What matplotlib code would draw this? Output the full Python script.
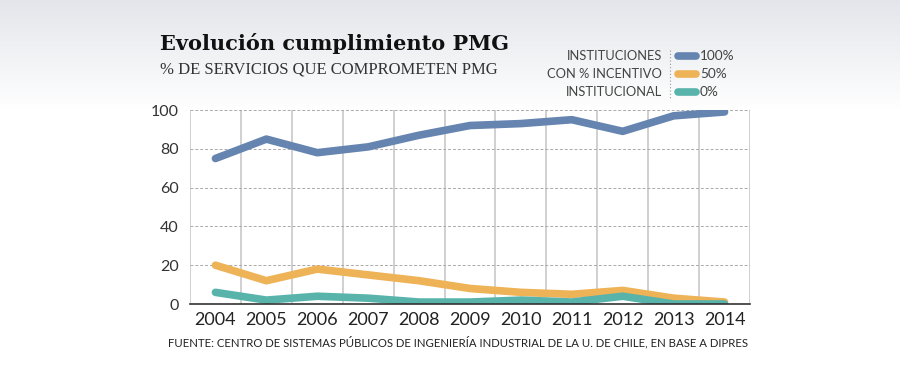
import matplotlib
matplotlib.use("Agg")
import matplotlib.pyplot as plt
import numpy as np

# Datos
years = [2004, 2005, 2006, 2007, 2008, 2009, 2010, 2011, 2012, 2013, 2014]
pct_100 = [75, 85, 78, 81, 87, 92, 93, 95, 89, 97, 99]
pct_50 = [20, 12, 18, 15, 12, 8, 6, 5, 7, 3, 1]
pct_0 = [6, 2, 4, 3, 1, 1, 2, 1, 4, 0, 0]

series_labels = ["100%", "50%", "0%"]
colors = ["#6585b0", "#eeb257", "#58b3ab"]

W, H = 900, 384
fig = plt.figure(figsize=(W / 100, H / 100), dpi=100)

# fondo degradado gris -> blanco
bg = fig.add_axes([0, 0, 1, 1], zorder=-10)
grad = np.ones((H, 1, 3))
top = np.array([0.89, 0.90, 0.92])
for i in range(H):
    t = min(i / 110.0, 1.0)
    grad[i, 0, :] = top * (1 - t) + np.array([1, 1, 1]) * t
bg.imshow(grad, aspect="auto", extent=[0, 1, 0, 1])
bg.axis("off")

# ejes: izquierda 190px, derecha 750px, y=100 en 110px, y=0 en 304px
ax = fig.add_axes([190 / W, 1 - 304 / H, 560 / W, 194 / H])
ax.set_facecolor("none")

for vals, c in zip([pct_100, pct_50, pct_0], colors):
    ax.plot(years, vals, color=c, lw=5.5, solid_capstyle="round", solid_joinstyle="round", zorder=3)

ax.set_xlim(2003.5, 2014.5)
ax.set_ylim(0, 100)
ax.set_yticks([0, 20, 40, 60, 80, 100])
ax.set_xticks(years)
ax.set_xticks(np.arange(2003.5, 2015, 1), minor=True)
ax.tick_params(axis="both", which="both", length=0)
ax.tick_params(axis="x", labelsize=13, pad=6, colors="#222222")
ax.tick_params(axis="y", labelsize=11.5, pad=8, colors="#333333")
for lab in ax.get_xticklabels() + ax.get_yticklabels():
    lab.set_fontfamily("Lato")

ax.grid(axis="y", which="major", color="#aaaaaa", linestyle=(0, (3, 2)), lw=0.7)
ax.grid(axis="x", which="minor", color="#c8c8c8", linestyle="-", lw=1.2)
ax.set_axisbelow(True)
for s in ["top", "right", "left"]:
    ax.spines[s].set_visible(False)
ax.spines["bottom"].set_color("#333333")
ax.spines["bottom"].set_linewidth(1.2)
ax.spines["bottom"].set_zorder(4)

# títulos
fig.text(160 / W, 1 - 43 / H, "Evolución cumplimiento PMG", fontsize=15, fontweight="bold",
         family="DejaVu Serif", color="#111111", va="center")
fig.text(160 / W, 1 - 70 / H, "% DE SERVICIOS QUE COMPROMETEN PMG", fontsize=12,
         family="Liberation Serif", color="#333333", va="center")

# leyenda
legend_title = ["INSTITUCIONES", "CON % INCENTIVO", "INSTITUCIONAL"]
rows_y = [56, 74, 92]
for txt, y in zip(legend_title, rows_y):
    fig.text(662 / W, 1 - y / H, txt, fontsize=9.3, family="Lato", color="#444444",
             ha="right", va="center")
fig.add_artist(plt.Line2D([670 / W, 670 / W], [1 - 50 / H, 1 - 98 / H], color="#999999",
                          lw=0.8, linestyle=(0, (1, 2))))
for lab, c, y in zip(series_labels, colors, rows_y):
    fig.add_artist(plt.Line2D([678 / W, 696 / W], [1 - y / H, 1 - y / H], color=c, lw=5.5,
                              solid_capstyle="round"))
    fig.text(700 / W, 1 - y / H, lab, fontsize=9.8, family="Lato", color="#444444",
             ha="left", va="center")

fig.text(168 / W, 1 - 342 / H,
         "FUENTE: CENTRO DE SISTEMAS PÚBLICOS DE INGENIERÍA INDUSTRIAL DE LA U. DE CHILE, EN BASE A DIPRES",
         fontsize=8.2, family="Lato", color="#222222", va="center")

fig.savefig("out.png", dpi=100)
